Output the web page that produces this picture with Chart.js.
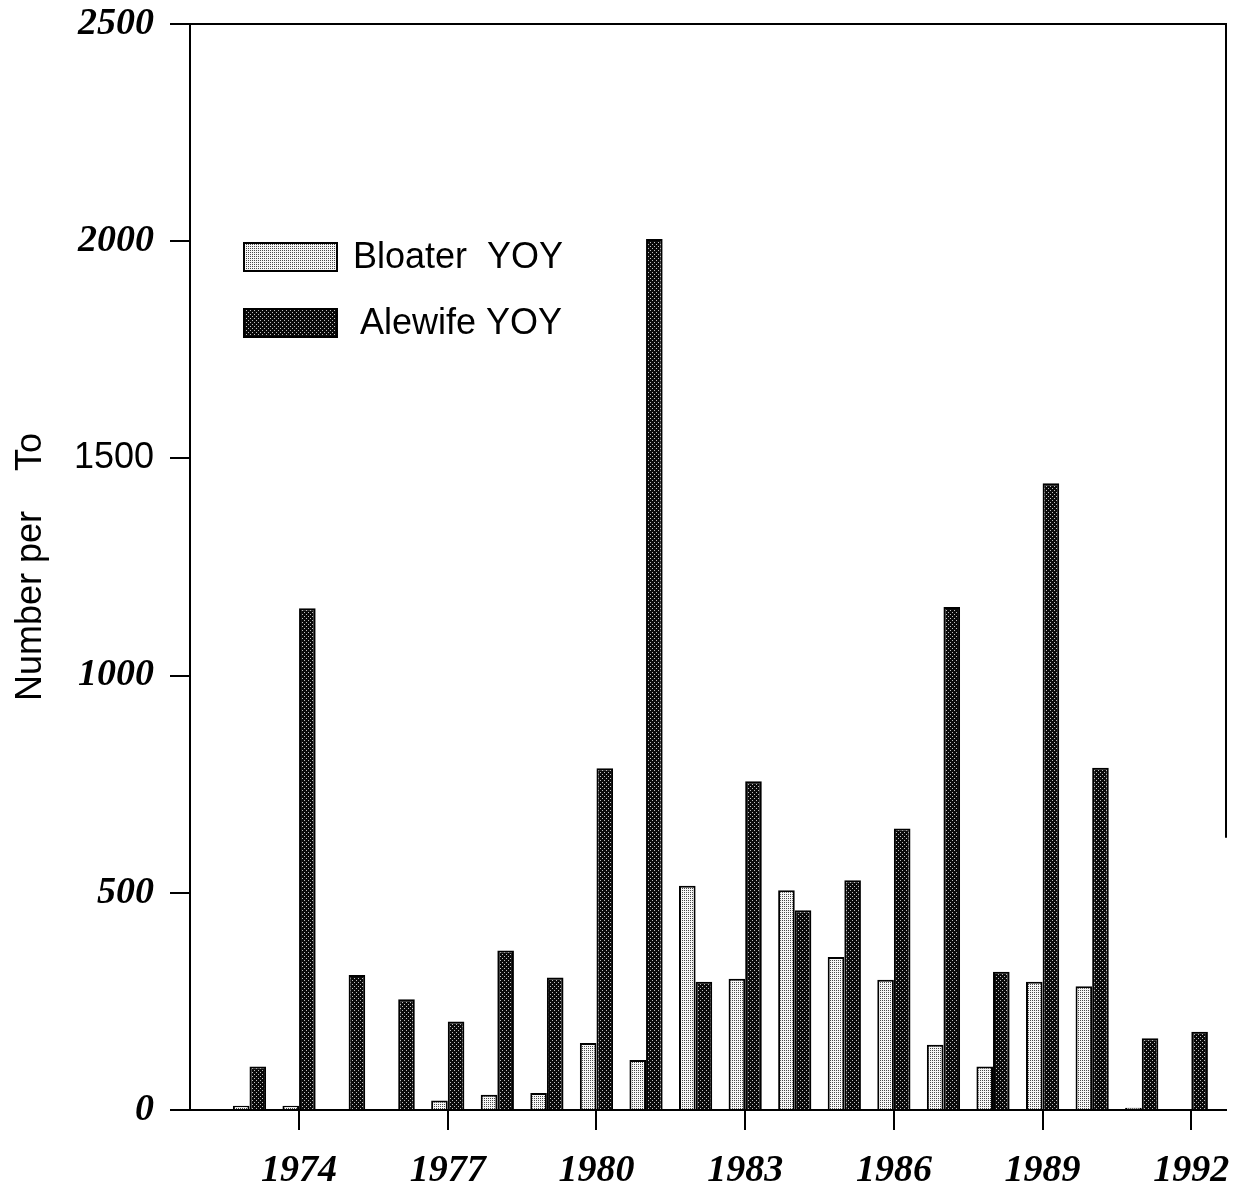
<!DOCTYPE html>
<html>
<head>
<meta charset="utf-8">
<script src="https://cdn.jsdelivr.net/npm/chart.js@4.4.1/dist/chart.umd.min.js"></script>
<style>
  body { margin: 0; background: #fff; }
  #wrap { width: 1235px; height: 1187px; position: relative; }
</style>
</head>
<body>
<div id="wrap"><canvas id="grafico"></canvas></div>
<script>
  // Anos e capturas (número por tonelada)
  const anos = [1973, 1974, 1975, 1976, 1977, 1978, 1979, 1980, 1981, 1982,
                1983, 1984, 1985, 1986, 1987, 1988, 1989, 1990, 1991, 1992];
  const bloater = [10, 10, 0, 0, 22, 35, 39, 154, 115, 516,
                   302, 506, 352, 300, 150, 100, 295, 285, 5, 0];
  const alewife = [100, 1155, 311, 255, 204, 367, 305, 787, 2005, 295,
                   757, 460, 529, 648, 1158, 318, 1443, 788, 165, 180];
  const anosMarcados = [1974, 1977, 1980, 1983, 1986, 1989, 1992];
  const legendas = ['Bloater  YOY', 'Alewife YOY'];

  // Padrão pontilhado para preencher as barras
  function pontilhado(fundo, ponto, pontos) {
    const c = document.createElement('canvas');
    c.width = 4; c.height = 4;
    const g = c.getContext('2d');
    g.fillStyle = fundo;
    g.fillRect(0, 0, 4, 4);
    g.fillStyle = ponto;
    pontos.forEach(p => g.fillRect(p[0], p[1], 1, 1));
    return g.createPattern(c, 'repeat');
  }
  const ctx = document.getElementById('grafico').getContext('2d');
  const claro = pontilhado('#f6f6f6', '#4a4a4a', [[0, 0], [2, 2], [0, 2], [2, 0]]);
  const escuro = pontilhado('#0a0a0a', '#c0c0c0', [[0, 0], [2, 2]]);

  const serifa = { family: '"Liberation Serif", "DejaVu Serif", serif', size: 38, style: 'italic', weight: 'bold' };
  const sans = { family: '"Liberation Sans", Arial, sans-serif', size: 36, weight: 'normal' };

  // sem folga extra para rótulos que passam da borda
  function semFolga(s) {
    s.paddingLeft = 0; s.paddingRight = 0;
    s.paddingTop = 0; s.paddingBottom = 0;
  }

  // Moldura (topo e lateral direita) e legenda dentro da área do gráfico
  const molduraELegenda = {
    id: 'molduraELegenda',
    afterDraw(chart) {
      const a = chart.chartArea;
      const g = chart.ctx;
      g.save();
      g.strokeStyle = '#000';
      g.lineWidth = 2;
      g.beginPath();
      g.moveTo(a.left, a.top);
      g.lineTo(a.right, a.top);
      g.lineTo(a.right, chart.scales.y.getPixelForValue(627));
      g.stroke();

      const caixas = [{ x: 244, y: 243, t: 353 }, { x: 244, y: 309, t: 360 }];
      chart.data.datasets.forEach((ds, i) => {
        const c = caixas[i];
        g.fillStyle = ds.backgroundColor;
        g.fillRect(c.x, c.y, 93, 28);
        g.strokeRect(c.x, c.y, 93, 28);
        g.fillStyle = '#000';
        g.font = '36px "Liberation Sans", Arial, sans-serif';
        g.textBaseline = 'middle';
        g.fillText(ds.label, c.t, c.y + 15);
      });
      g.restore();
    }
  };

  new Chart(ctx, {
    type: 'bar',
    data: {
      labels: anos,
      datasets: [
        { label: legendas[0], data: bloater, backgroundColor: claro, borderColor: '#000', borderWidth: 2 },
        { label: legendas[1], data: alewife, backgroundColor: escuro, borderColor: '#000', borderWidth: 2 }
      ]
    },
    options: {
      responsive: true,
      maintainAspectRatio: false,
      animation: false,
      layout: { padding: { left: 0, top: 24, right: 9, bottom: 0 } },
      categoryPercentage: 0.67,
      barPercentage: 1.0,
      plugins: {
        legend: { display: false },
        tooltip: { enabled: false }
      },
      scales: {
        x: {
          type: 'linear',
          offset: false,
          min: 1971.8,
          max: 1992.7,
          afterBuildTicks: s => { s.ticks = anosMarcados.map(v => ({ value: v })); },
          afterFit: s => { s.height = 77; semFolga(s); },
          border: { display: true, color: '#000', width: 2 },
          grid: { display: true, offset: false, drawOnChartArea: false, drawTicks: true, tickLength: 20, color: '#000', lineWidth: 2 },
          ticks: {
            autoSkip: false,
            maxRotation: 0,
            padding: 18,
            color: '#000',
            font: serifa,
            callback: v => String(v)
          }
        },
        y: {
          min: 0,
          max: 2500,
          afterFit: s => { s.width = 190; semFolga(s); },
          border: { display: true, color: '#000', width: 2 },
          grid: { display: true, drawOnChartArea: false, drawTicks: true, tickLength: 20, color: '#000', lineWidth: 2 },
          ticks: {
            stepSize: 500,
            padding: 16,
            color: '#000',
            callback: v => String(v),
            // o rótulo 1500 sai em fonte sem serifa
            font: c => (c.tick && c.tick.value === 1500) ? sans : serifa
          },
          title: {
            display: true,
            text: 'Number per    To',
            color: '#000',
            font: { family: '"Liberation Sans", Arial, sans-serif', size: 36 },
            padding: { top: 9, bottom: 0 }
          }
        }
      }
    },
    plugins: [molduraELegenda]
  });
</script>
</body>
</html>
